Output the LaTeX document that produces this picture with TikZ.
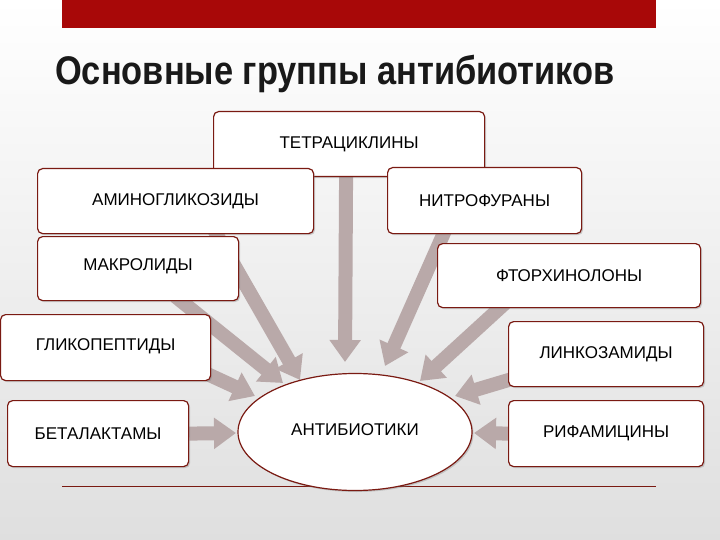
\documentclass[tikz,border=0pt]{standalone}
\usepackage{fontspec}
\setmainfont{Liberation Sans}
\usetikzlibrary{arrows.meta,shadows,calc,shapes.geometric}
\pgfdeclarelayer{bg}
\pgfdeclarelayer{arrows}
\pgfsetlayers{bg,arrows,main}
\definecolor{bord}{HTML}{7A1A12}
\definecolor{arrc}{HTML}{B9A9A9}
\definecolor{redbar}{HTML}{A80808}
\begin{document}
\begin{tikzpicture}[x=1pt,y=-1pt,
 box/.style={draw=bord,line width=1.2pt,rounded corners=5pt,fill=white,anchor=north west,font=\fontsize{17}{19}\selectfont,drop shadow={shadow xshift=1.5pt,shadow yshift=-1.5pt,opacity=.35}},
 arr/.style={draw=arrc,line width=14pt,-{Triangle[length=22pt,width=30pt]}}]
\begin{pgfonlayer}{bg}
\shade[top color=white,bottom color=gray!25] (0,0) rectangle (720,540);
\end{pgfonlayer}
\useasboundingbox (0,0) rectangle (720,540);
\fill[redbar] (62,0) rectangle (656,28);
\node[anchor=west,font=\bfseries\fontsize{40}{44}\selectfont,text=black!90,xscale=0.86,inner sep=0pt] (title) at (55,74) {Основные группы антибиотиков};
\draw[bord,line width=0.8pt] (62,486) -- (656,486);
\node[box,minimum width=271pt,minimum height=65pt] (tetra) at (213,111) {ТЕТРАЦИКЛИНЫ};
\node[box,minimum width=276pt,minimum height=65pt] (amino) at (37,168) {АМИНОГЛИКОЗИДЫ};
\node[box,minimum width=194pt,minimum height=66pt] (nitro) at (387,167) {НИТРОФУРАНЫ};
\node[box,minimum width=201pt,minimum height=64pt] (makro) at (37,236) {\raisebox{8pt}{МАКРОЛИДЫ}};
\node[box,minimum width=263pt,minimum height=64pt] (ftor) at (437,243) {\raisebox{-8pt}{ФТОРХИНОЛОНЫ}};
\node[box,minimum width=210pt,minimum height=66pt] (glyko) at (0,314) {\raisebox{6pt}{ГЛИКОПЕПТИДЫ}};
\node[box,minimum width=195pt,minimum height=65pt] (linko) at (508,321) {\raisebox{-5pt}{ЛИНКОЗАМИДЫ}};
\node[box,minimum width=181pt,minimum height=66pt] (beta) at (7,400) {БЕТАЛАКТАМЫ};
\node[box,minimum width=195pt,minimum height=66pt] (rifa) at (508,400) {РИФАМИЦИНЫ};
\node[draw=bord,line width=1.2pt,ellipse,fill=white,minimum width=234pt,minimum height=117pt,font=\fontsize{17}{19}\selectfont,drop shadow={shadow xshift=1.5pt,shadow yshift=-1.5pt,opacity=.35}] (e) at (355,432) {\raisebox{4pt}{АНТИБИОТИКИ}};
\begin{pgfonlayer}{arrows}
\draw[arr] ($(tetra.south)+(-3,-5)$) -- (345,362);
\draw[arr] ($(amino.south)+(38,-5)$) -- (300,380);
\draw[arr] ($(makro.south)+(37,-5)$) -- (283,383);
\draw[arr] ($(nitro.south)+(-39,-5)$) -- (385,366);
\draw[arr] ($(ftor.south)+(-64,-5)$) -- (420,381);
\draw[arr] ($(glyko.south east)+(-10,-10)$) -- (255,396);
\draw[arr] ($(linko.south west)+(10,-10)$) -- (455,396);
\draw[arr] (beta.east) -- (236,433);
\draw[arr] (rifa.west) -- (474,433);
\end{pgfonlayer}
\end{tikzpicture}
\end{document}
